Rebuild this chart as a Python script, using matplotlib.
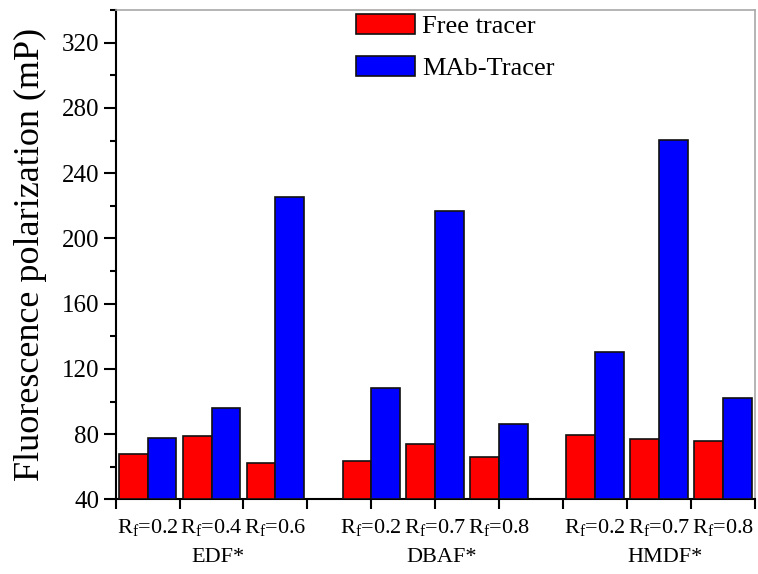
import matplotlib

matplotlib.use("Agg")
import matplotlib.pyplot as plt
import numpy as np

plt.rcParams["font.family"] = ["Liberation Serif", "DejaVu Serif"]
plt.rcParams["mathtext.fontset"] = "custom"
plt.rcParams["mathtext.rm"] = "Liberation Serif"
plt.rcParams["mathtext.it"] = "Liberation Serif:italic"

# data
groups = ["EDF*", "DBAF*", "HMDF*"]
rf_labels = ["0.2", "0.4", "0.6", "0.2", "0.7", "0.8", "0.2", "0.7", "0.8"]
pair_x = [0.5, 1.5, 2.5, 4.0, 5.0, 6.0, 7.5, 8.5, 9.5]
free_tracer = [68, 78.8, 62.6, 63.4, 74, 65.9, 79.8, 77.3, 75.7]
mab_tracer = [77.5, 96, 225.2, 108.2, 216.8, 86.3, 130.5, 260.4, 102]
group_x = [1.6, 5.1, 8.6]

BASE = 40
bar_w = 0.45

fig = plt.figure(figsize=(7.58, 5.74), dpi=100)
ax = fig.add_axes([0.1526, 0.1298, 0.8431, 0.8528])

x = np.array(pair_x)
free = np.array(free_tracer)
mab = np.array(mab_tracer)
ax.bar(x - bar_w / 2, free - BASE, bar_w, bottom=BASE, color="#ff0000",
       edgecolor="#111111", linewidth=1.2, label="Free tracer", zorder=3)
ax.bar(x + bar_w / 2, mab - BASE, bar_w, bottom=BASE, color="#0000ff",
       edgecolor="#111111", linewidth=1.2, label="MAb-Tracer", zorder=3)

ax.set_xlim(0, 10)
ax.set_ylim(40, 340)
ax.set_xticks(np.arange(0, 11))
ax.set_xticklabels([])
ax.set_yticks(np.arange(40, 321, 40))
ax.set_yticks(np.arange(60, 341, 40), minor=True)
ax.tick_params(axis="y", which="major", direction="out", length=9, width=1.5,
               labelsize=18, pad=3)
ax.tick_params(axis="y", which="minor", direction="out", length=4.5, width=1.5)
ax.tick_params(axis="x", which="major", direction="out", length=7, width=1.5)

for side in ("left", "bottom"):
    ax.spines[side].set_linewidth(1.5)
    ax.spines[side].set_color("black")
for side in ("top", "right"):
    ax.spines[side].set_linewidth(1.2)
    ax.spines[side].set_color("#a8a8a8")

ax.set_ylabel("Fluorescence polarization (mP)", fontsize=26)
ax.yaxis.set_label_coords(-0.107, 0.5)

for xi, lab in zip(pair_x, rf_labels):
    ax.text(xi, -0.035, "R$_{\\mathrm{f}}$=" + lab, transform=ax.get_xaxis_transform(),
            ha="center", va="top", fontsize=16)
for xi, g in zip(group_x, groups):
    ax.text(xi, -0.10, g, transform=ax.get_xaxis_transform(),
            ha="center", va="top", fontsize=16)

ax.legend(loc="upper left", bbox_to_anchor=(0.352, 1.025), frameon=False,
          fontsize=19, handlelength=2.2, handleheight=0.8, handletextpad=0.3,
          labelspacing=0.68, borderaxespad=0.2)

fig.savefig("out.png", dpi=100)
